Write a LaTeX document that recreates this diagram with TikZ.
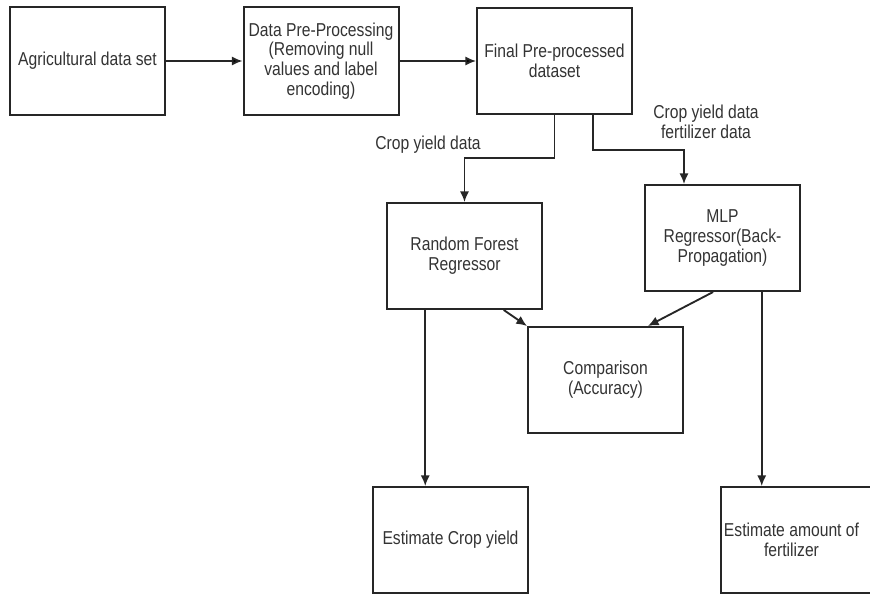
\documentclass[tikz,border=0pt]{standalone}
\usepackage{fontspec}
\setmainfont{Liberation Sans}[FakeStretch=0.84]
\usetikzlibrary{arrows,arrows.meta,positioning,calc}
\definecolor{inkgray}{HTML}{262626}
\definecolor{textgray}{HTML}{333333}

\begin{document}
\begin{tikzpicture}[x=0.75pt,y=-0.75pt,>={Latex[length=8pt,width=7pt]},
  box/.style={rectangle,draw=inkgray,line width=1.5pt,minimum width=116.25pt,minimum height=79.5pt,align=center,text=textgray,font=\fontsize{14}{14.8}\selectfont,inner sep=2pt},
  lbl/.style={align=center,text=textgray,font=\fontsize{14}{14.8}\selectfont},
  link/.style={->,draw=inkgray,line width=1.4pt}]
% \draw[help lines] (0,0) grid (870,594);
\useasboundingbox (0,0) rectangle (870,594);
\clip (0,0) rectangle (870,594);
\node (agri) [box,minimum height=81pt] at (87.5,61) {Agricultural data set};
\node (prep) [box,minimum height=81pt] at (321,61) {Data Pre-Processing\\(Removing null\\values and label\\encoding)};
\node (final) [box] at (554.5,61) {Final Pre-processed\\dataset};
\node (rf) [box] at (464.5,256) {Random Forest\\Regressor};
\node (mlp) [box] at (722.5,238) {MLP\\Regressor(Back-\\Propagation)};
\node (comp) [box] at (605.5,380) {Comparison\\(Accuracy)};
\node (crop) [box] at (450.5,540) {Estimate Crop yield};
\node (fert) [box] at (799.5,540) {Estimate amount of\hspace*{12pt}\\fertilizer\hspace*{12pt}};
%
\node (lblrf) [lbl] at (428,145) {Crop yield data};
\node (lblmlp) [lbl] at (706,122) {Crop yield data\\fertilizer data};
%
\coordinate (bendrf) at (554.5,158);
\coordinate (bendmlp) at (593,150);
\coordinate (dropmlp) at (684,150);
\coordinate (rfout) at ($(rf.south west)!0.5!(rf.south)$);
\coordinate (mlpout) at ($(mlp.south)!0.5!(mlp.south east)$);
%
\path[link] (agri) edge (prep);
\path[link] (prep) edge (final);
\draw[link] (final.south) -- (bendrf) -| (rf.north);
\draw[link] (final.south -| bendmlp) -- (bendmlp) -- (dropmlp) -- (dropmlp |- mlp.north);
%
\draw[link] ($(rf.south)!0.5!(rf.south east)$) -- (comp.north west);
\draw[link] ($(mlp.south west)!0.88!(mlp.south)$) -- ($(comp.north)!0.54!(comp.north east)$);
\draw[link] (rfout) -- (rfout |- crop.north);
\draw[link] (mlpout) -- (mlpout |- fert.north);
\end{tikzpicture}
\end{document}
